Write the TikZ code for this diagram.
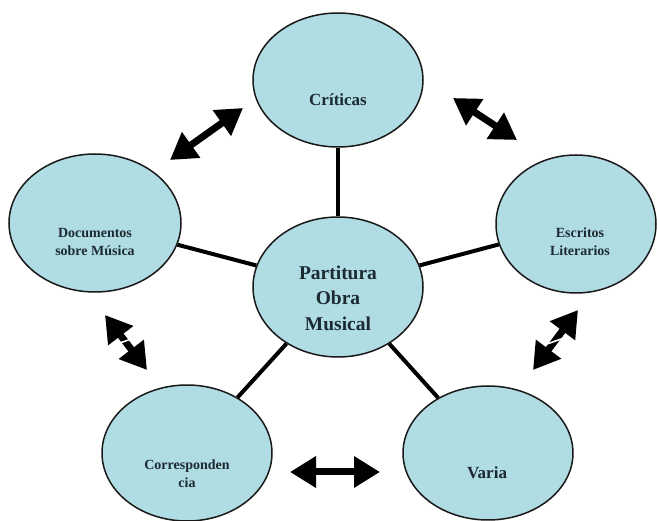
\documentclass[tikz,border=0pt]{standalone}
\usepackage{fontspec}
\setmainfont{Liberation Serif}
\usetikzlibrary{shapes.geometric,arrows.meta,calc}
\definecolor{bubble}{HTML}{B0DCE3}
\definecolor{ink}{HTML}{1C2A32}
\tikzset{
  bubble/.style={ellipse, draw=black!90, line width=1.5pt, fill=bubble, inner sep=0pt},
  lbl/.style={align=center, text=ink, font=\bfseries\fontsize{14}{18}\selectfont},
  biglbl/.style={align=center, text=ink, font=\bfseries\fontsize{17}{22}\selectfont},
  link/.style={line width=4pt, black},
  dbl/.style={line width=7pt, black, {Triangle[length=26pt,width=30pt]}-{Triangle[length=26pt,width=30pt]}},
  gapcut/.style={white, line width=1.6pt}
}
\begin{document}
\begin{tikzpicture}[x=1pt,y=-1pt]
\useasboundingbox (0,0) rectangle (657,521);
% bubbles
\node[bubble, minimum width=170pt, minimum height=134pt] (crit) at (338,80) {};
\node[bubble, minimum width=172pt, minimum height=138pt] (doc) at (95,223) {};
\node[bubble, minimum width=160pt, minimum height=138pt] (esc) at (576,224) {};
\node[bubble, minimum width=170pt, minimum height=140pt] (cen) at (338,287) {};
\node[bubble, minimum width=170pt, minimum height=136pt] (corr) at (187,453) {};
\node[bubble, minimum width=170pt, minimum height=134pt] (var) at (488,453) {};
% labels
\node[biglbl] (tcrit) at (338,100) {Críticas};
\node[lbl] (tdoc) at (95,242) {Documentos\\sobre Música};
\node[lbl] (tesc) at (580,242) {Escritos\\Literarios};
\node[align=center, text=ink, font=\bfseries\fontsize{19.5}{25.5}\selectfont] (tcen) at (338,298) {Partitura\\Obra\\Musical};
\node[lbl] (tcorr) at (187,474) {Corresponden\\cia};
\node[biglbl] (tvar) at (487,473) {Varia};
% links
\draw[link] (crit) -- (cen);
\draw[link] (doc) -- (cen);
\draw[link] (esc) -- (cen);
\draw[link] (corr) -- (cen);
\draw[link] (var) -- (cen);
% arrow ends
\coordinate (a1s) at (170,160); \coordinate (a1e) at (243,108);
\coordinate (a2s) at (453,98);  \coordinate (a2e) at (517,140);
\coordinate (a3s) at (105,315); \coordinate (a3e) at (147,370);
\coordinate (a4s) at (578,310); \coordinate (a4e) at (533,370);
\coordinate (a5s) at (290,472); \coordinate (a5e) at (380,472);
\draw[dbl] (a1s) -- (a1e);
\draw[dbl] (a2s) -- (a2e);
\draw[dbl] (a3s) -- (a3e);
\draw[dbl] (a4s) -- (a4e);
\draw[dbl] (a5s) -- (a5e);
% small white breaks seen on two arrows
\coordinate (g3a) at (117,344); \coordinate (g3b) at (134,338);
\coordinate (g4a) at (547,344); \coordinate (g4b) at (564,338);
\draw[gapcut] (g3a) -- (g3b);
\draw[gapcut] (g4a) -- (g4b);
\end{tikzpicture}
\end{document}
